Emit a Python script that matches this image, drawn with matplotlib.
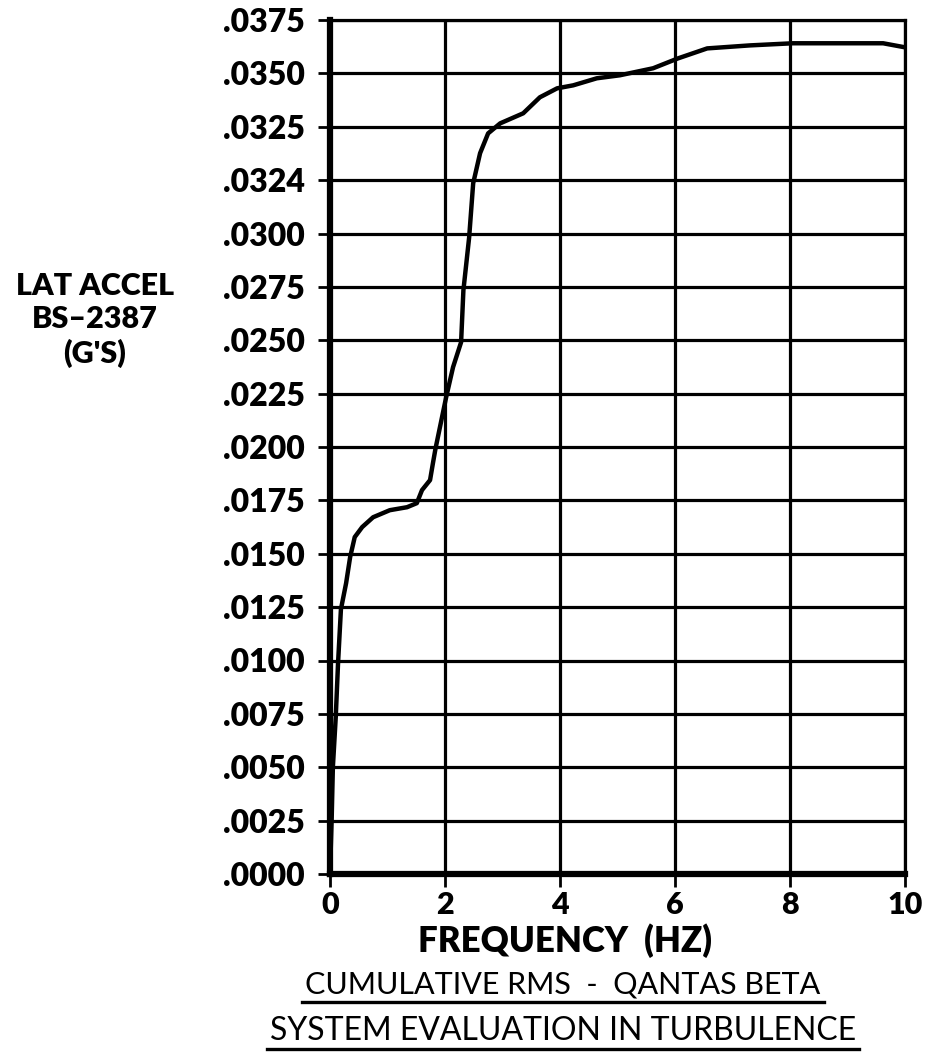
import matplotlib
matplotlib.use("Agg")
import matplotlib.pyplot as plt
from matplotlib.lines import Line2D

# ---- data ----
freq_hz = [0.00, 0.03, 0.05, 0.10, 0.14, 0.19, 0.28, 0.35, 0.43, 0.56, 0.75,
           1.04, 1.34, 1.51, 1.60, 1.74, 1.79, 1.83, 1.84, 2.02, 2.14, 2.28,
           2.32, 2.42, 2.49, 2.61, 2.75, 2.96, 3.36, 3.65, 3.95, 4.23, 4.64,
           5.04, 5.62, 6.05, 6.56, 7.30, 8.05, 8.75, 9.62, 10.0]
lat_accel_g = [0.0000, 0.00267, 0.00501, 0.00735, 0.00988, 0.01240, 0.01362,
               0.01484, 0.01578, 0.01625, 0.01671, 0.01704, 0.01718, 0.01737,
               0.01798, 0.01845, 0.01924, 0.01985, 0.01999, 0.02233, 0.02374,
               0.02491, 0.02734, 0.02982, 0.03235, 0.03376, 0.03469, 0.03516,
               0.03563, 0.03638, 0.03680, 0.03694, 0.03727, 0.03741, 0.03774,
               0.03820, 0.03867, 0.03881, 0.03891, 0.03891, 0.03891, 0.03872]

x_ticks = [0, 2, 4, 6, 8, 10]
y_ticks = [0.0025 * i for i in range(17)]
y_tick_labels = [".0000", ".0025", ".0050", ".0075", ".0100", ".0125", ".0150",
                 ".0175", ".0200", ".0225", ".0250", ".0275", ".0300", ".0324",
                 ".0325", ".0350", ".0375"]

ylabel_text = "LAT ACCEL\nBS\u20132387\n(G'S)"
xlabel_text = "FREQUENCY  (HZ)"
title_lines = ["CUMULATIVE RMS  -  QANTAS BETA", "SYSTEM EVALUATION IN TURBULENCE"]

plt.rcParams['font.family'] = ['Lato', 'DejaVu Sans']

W, H = 925, 1053
fig = plt.figure(figsize=(W / 100, H / 100), dpi=100)
ax = fig.add_axes([330 / W, 1 - 874 / H, (905 - 330) / W, (874 - 20) / H])

ax.plot(freq_hz, lat_accel_g, color='black', lw=3.2, solid_capstyle='round',
        solid_joinstyle='round', zorder=3)

ax.set_xlim(0, 10)
ax.set_ylim(0, 0.04)
ax.set_xticks(x_ticks)
ax.set_xticklabels([str(t) for t in x_ticks], fontsize=22, fontweight='heavy')
ax.set_yticks(y_ticks)
ax.set_yticklabels(y_tick_labels, fontsize=23, fontweight='heavy')
ax.tick_params(axis='both', direction='out', length=9, width=2, color='black')
ax.tick_params(axis='y', pad=9)
ax.tick_params(axis='x', pad=3)

ax.grid(True, color='black', lw=2.3, zorder=1)
for s in ['top', 'right']:
    ax.spines[s].set_linewidth(2.3)
ax.spines['left'].set_linewidth(4.5)
ax.spines['bottom'].set_linewidth(4.5)

fig.text(95 / W, 1 - 320 / H, ylabel_text, ha='center', va='center',
         fontsize=22, fontweight='heavy', linespacing=1.25)

fig.text(565 / W, 1 - 941 / H, xlabel_text, ha='center', va='center',
         fontsize=25, fontweight='heavy')

title_y = [985, 1031]
title_sizes = [22, 23]
texts = []
for t, yy, fs in zip(title_lines, title_y, title_sizes):
    texts.append(fig.text(563 / W, 1 - yy / H, t, ha='center', va='center', fontsize=fs))

fig.canvas.draw()
r = fig.canvas.get_renderer()
for t in texts:
    bb = t.get_window_extent(r)
    yline = bb.y0 - 3
    fig.add_artist(Line2D([(bb.x0 - 3) / W, (bb.x1 + 3) / W], [yline / H, yline / H],
                          transform=fig.transFigure, color='black', lw=2.4))

fig.savefig("out.png", dpi=100)
